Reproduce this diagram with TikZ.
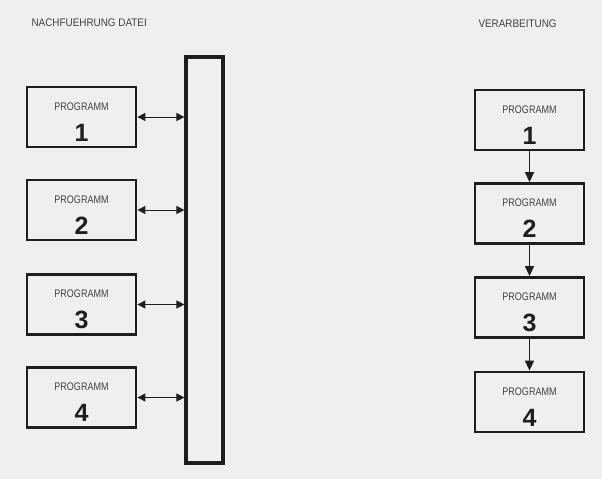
\documentclass[tikz,border=0pt]{standalone}
\usepackage{fontspec}
\setmainfont{Liberation Sans}
\newfontfamily\condfont[FakeStretch=0.82]{Liberation Sans}
\newfontfamily\titlefont[FakeStretch=0.9]{Liberation Sans}
\usetikzlibrary{arrows.meta}
\definecolor{paper}{HTML}{EFEFED}
\definecolor{ink}{HTML}{1E1E1E}
\tikzset{
  prog/.style={draw=ink, line width=2.8pt, minimum width=109pt, minimum height=60pt, inner sep=0pt},
  lbl/.style={font=\condfont\fontsize{11}{11}\selectfont, text=ink!85},
  num/.style={font=\bfseries\fontsize{25}{25}\selectfont, text=ink},
  title/.style={font=\titlefont\fontsize{11}{11}\selectfont, text=ink!85, anchor=west},
  biarrow/.style={{Triangle[length=8pt,width=8pt]}-{Triangle[length=8pt,width=8pt]}, line width=1pt, draw=ink},
  downarrow/.style={-{Triangle[length=10pt,width=9pt]}, line width=1.4pt, draw=ink}
}
\newcommand{\progbox}[4]{%
  \node[prog] (#1) at (#2,#3) {};
  \node[lbl] at ([yshift=-21pt]#1.north) {PROGRAMM};
  \node[num] at ([yshift=-47pt]#1.north) {#4};
}
\begin{document}
\begin{tikzpicture}[x=1pt,y=-1pt]
\fill[paper] (0,0) rectangle (602,479);
\useasboundingbox (0,0) rectangle (602,479);
\node[title] (t1) at (28,23) {NACHFUEHRUNG DATEI};
\node[title] (t2) at (475,24) {VERARBEITUNG};
% file bar
\node[draw=ink, line width=3.2pt, minimum width=37pt, minimum height=406pt, inner sep=0pt] (bar) at (204.5,260) {};
% left programs
\progbox{a1}{81.5}{117}{1}
\progbox{a2}{81.5}{210}{2}
\progbox{a3}{81.5}{304.5}{3}
\progbox{a4}{81.5}{397.5}{4}
\foreach \i in {1,...,4}{
  \draw[biarrow] (a\i.east) -- (a\i.east -| bar.west);
}
% right programs
\progbox{b1}{529.5}{120}{1}
\progbox{b2}{529.5}{213.5}{2}
\progbox{b3}{529.5}{307.5}{3}
\progbox{b4}{529.5}{402}{4}
\draw[downarrow] (b1.south) -- (b2.north);
\draw[downarrow] (b2.south) -- (b3.north);
\draw[downarrow] (b3.south) -- (b4.north);
\end{tikzpicture}
\end{document}
